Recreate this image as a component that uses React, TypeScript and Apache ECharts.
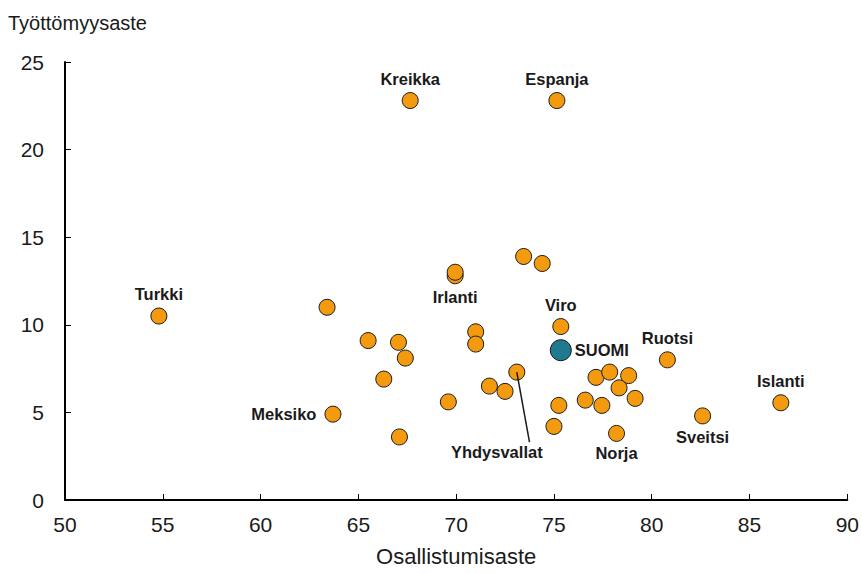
import React, { useEffect, useRef } from "react";
import * as echarts from "echarts";

// Country data: [participation rate, unemployment rate]
const countryNames = [
  "Kreikka", "Espanja", "Turkki", "Meksiko", "", "", "", "", "", "",
  "Irlanti", "", "", "", "", "", "", "Yhdysvallat", "", "", "Viro",
  "", "", "", "", "", "", "", "", "", "Norja", "Ruotsi", "Sveitsi", "Islanti",
];
const participation = [
  67.65, 75.15, 54.8, 63.7, 63.4, 65.5, 67.05, 67.4, 66.3, 67.1,
  69.95, 69.95, 71.0, 71.0, 69.6, 71.7, 72.5, 73.1, 73.45, 74.4, 75.35,
  75.25, 75.0, 76.6, 77.15, 77.85, 78.82, 78.33, 77.45, 79.15, 78.2, 80.8, 82.6, 86.6,
];
const unemployment = [
  22.8, 22.8, 10.5, 4.9, 11.0, 9.1, 9.0, 8.1, 6.9, 3.6,
  12.8, 13.0, 9.6, 8.9, 5.6, 6.5, 6.2, 7.3, 13.9, 13.5, 9.9,
  5.4, 4.2, 5.7, 7.0, 7.3, 7.1, 6.4, 5.4, 5.8, 3.8, 8.0, 4.8, 5.55,
];
const finlandName = "SUOMI";
const finlandValue = [75.35, 8.55];

const xTicks = { min: 50, max: 90, interval: 5 };
const yTicks = { min: 0, max: 25, interval: 5 };

// Label placement per named country
const labelPlacement: Record<string, { position: string; distance?: number; offset?: number[] }> = {
  Kreikka: { position: "top", distance: 5 },
  Espanja: { position: "top", distance: 5 },
  Turkki: { position: "top", distance: 5 },
  Meksiko: { position: "left", distance: 8 },
  Irlanti: { position: "bottom", distance: 4 },
  Viro: { position: "top", distance: 5 },
  Ruotsi: { position: "top", distance: 5 },
  Norja: { position: "bottom", distance: 3 },
  Sveitsi: { position: "bottom", distance: 4 },
  Islanti: { position: "top", distance: 5 },
  Yhdysvallat: { position: "bottom", distance: 5, offset: [-20, 58] },
};

const leaderLine = { from: [73.1, 7.3], to: [73.75, 3.3] };

const FONT = "'Liberation Sans', Arial, sans-serif";

export default function App() {
  const ref = useRef<HTMLDivElement>(null);
  useEffect(() => {
    if (!ref.current) return;
    const chart = echarts.init(ref.current, null, { renderer: "svg" });
    const labelStyle = {
      fontFamily: FONT,
      fontSize: 16.5,
      fontWeight: "bold",
      color: "#1a1a1a",
    };
    const data = participation.map((x, i) => {
      const name = countryNames[i];
      const item: any = { name, value: [x, unemployment[i]] };
      if (name && labelPlacement[name]) {
        const p = labelPlacement[name];
        item.label = {
          show: true,
          formatter: name,
          position: p.position,
          distance: p.distance,
          offset: p.offset,
          ...labelStyle,
        };
      }
      return item;
    });
    chart.setOption({
      animation: false,
      backgroundColor: "#ffffff",
      grid: { left: 65, right: 14, top: 62, bottom: 73, containLabel: false },
      graphic: [
        {
          type: "text",
          left: 8,
          top: 13,
          style: { text: "Työttömyysaste", font: `20px ${FONT}`, fill: "#1a1a1a" },
        },
      ],
      xAxis: {
        type: "value",
        min: xTicks.min,
        max: xTicks.max,
        interval: xTicks.interval,
        name: "Osallistumisaste",
        nameLocation: "middle",
        nameGap: 45,
        nameTextStyle: { fontFamily: FONT, fontSize: 22, color: "#1a1a1a" },
        axisLine: { show: true, lineStyle: { color: "#000", width: 2 } },
        axisTick: { show: true, inside: true, length: 6, lineStyle: { color: "#000", width: 1 } },
        axisLabel: { fontFamily: FONT, fontSize: 21, color: "#1a1a1a", margin: 14 },
        splitLine: { show: false },
      },
      yAxis: {
        type: "value",
        min: yTicks.min,
        max: yTicks.max,
        interval: yTicks.interval,
        axisLine: { show: true, lineStyle: { color: "#000", width: 2 } },
        axisTick: { show: true, inside: true, length: 6, lineStyle: { color: "#000", width: 1 } },
        axisLabel: { fontFamily: FONT, fontSize: 21, color: "#1a1a1a", margin: 21 },
        splitLine: { show: false },
      },
      series: [
        {
          type: "scatter",
          symbolSize: 16,
          itemStyle: { color: "#F39A0E", borderColor: "#1a1a1a", borderWidth: 1, opacity: 1 },
          data,
          z: 2,
          markLine: {
            silent: true,
            symbol: "none",
            label: { show: false },
            lineStyle: { color: "#1a1a1a", width: 1.5, type: "solid" },
            data: [[{ coord: leaderLine.from }, { coord: leaderLine.to }]],
          },
        },
        {
          type: "scatter",
          symbolSize: 21,
          itemStyle: { color: "#1F7A8F", borderColor: "#1a1a1a", borderWidth: 1, opacity: 1 },
          z: 3,
          data: [
            {
              name: finlandName,
              value: finlandValue,
              label: { show: true, formatter: finlandName, position: "right", distance: 3, ...labelStyle },
            },
          ],
        },
      ],
    });
    return () => chart.dispose();
  }, []);
  return (
    <div
      ref={ref}
      style={{ position: "fixed", left: 0, top: 0, width: 862, height: 573 }}
    />
  );
}
